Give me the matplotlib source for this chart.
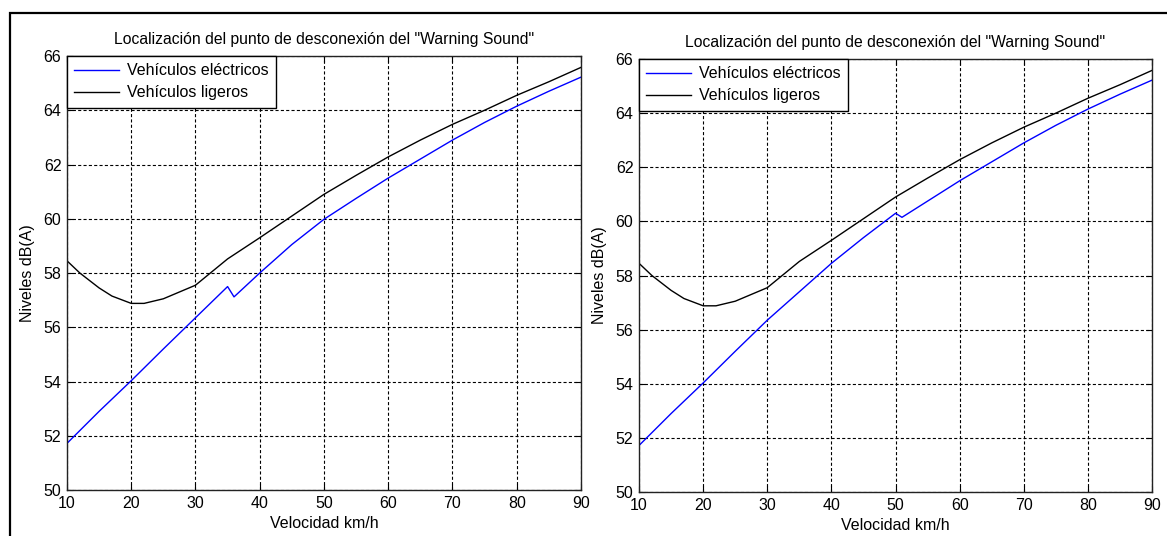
import matplotlib.pyplot as plt
from matplotlib.patches import Rectangle

plt.rcParams['font.family'] = ['Liberation Sans', 'DejaVu Sans']

# Vehículos ligeros (same curve on both panels)
speed_ligeros = [10, 12, 15, 17, 20, 22, 25, 27, 30, 35, 40, 45, 50, 55, 60, 65,
                 70, 75, 80, 85, 90]
nivel_ligeros = [58.45, 58.0, 57.45, 57.15, 56.88, 56.88, 57.05, 57.25, 57.55,
                 58.52, 59.3, 60.1, 60.9, 61.6, 62.28, 62.9, 63.48, 64.0, 64.55,
                 65.05, 65.58]

# Vehículos eléctricos, warning sound switched off at 35 km/h (left)
speed_elec_a = [10, 15, 20, 25, 30, 35, 36, 40, 45, 50, 55, 60, 65, 70, 75, 80, 85, 90]
nivel_elec_a = [51.72, 52.9, 54.03, 55.2, 56.35, 57.5, 57.12, 58.0, 59.05, 59.98,
                60.75, 61.5, 62.2, 62.9, 63.55, 64.15, 64.7, 65.22]

# Vehículos eléctricos, warning sound switched off at 50 km/h (right)
speed_elec_b = [10, 15, 20, 25, 30, 35, 40, 45, 50, 51, 55, 60, 65, 70, 75, 80, 85, 90]
nivel_elec_b = [51.72, 52.9, 54.03, 55.2, 56.35, 57.4, 58.45, 59.4, 60.3, 60.15,
                60.75, 61.5, 62.2, 62.9, 63.55, 64.15, 64.7, 65.22]

x_ticks = [10, 20, 30, 40, 50, 60, 70, 80, 90]
y_ticks = [50, 52, 54, 56, 58, 60, 62, 64, 66]

titulo = 'Localización del punto de desconexión del "Warning Sound"'

fig = plt.figure(figsize=(11.67, 5.36), dpi=100)

# outer frame of the original figure
fig.add_artist(Rectangle((0.0086, -0.1), 1.2, 1.0757, transform=fig.transFigure,
                         fill=False, edgecolor='black', linewidth=1.6, clip_on=False))

ax1 = fig.add_axes([0.0574, 0.0858, 0.4404, 0.8097])
ax2 = fig.add_axes([0.5476, 0.0821, 0.4396, 0.8078])

panels = [(ax1, speed_elec_a, nivel_elec_a), (ax2, speed_elec_b, nivel_elec_b)]

for ax, sx, sy in panels:
    ax.plot(sx, sy, color='blue', linewidth=1.0, label='Vehículos eléctricos')
    ax.plot(speed_ligeros, nivel_ligeros, color='black', linewidth=1.0,
            label='Vehículos ligeros')
    ax.set_xlim(10, 90)
    ax.set_ylim(50, 66)
    ax.set_xticks(x_ticks)
    ax.set_yticks(y_ticks)
    ax.grid(True, color='black', linestyle=(0, (2.8, 2.0)), linewidth=0.8)
    ax.tick_params(direction='in', top=True, right=True, length=4, width=0.8,
                   labelsize=11.5, pad=4)
    for s in ax.spines.values():
        s.set_linewidth(1.0)
        s.set_color('#222222')
    ax.set_title(titulo, fontsize=11.3, pad=9)
    ax.set_xlabel('Velocidad km/h', fontsize=11.5, labelpad=4)
    ax.set_ylabel('Niveles dB(A)', fontsize=11.5, labelpad=6)
    leg = ax.legend(loc='upper left', fontsize=11.5, fancybox=False, framealpha=1,
                    borderaxespad=0, handlelength=2.8, handletextpad=0.5,
                    labelspacing=0.45, borderpad=0.45)
    leg.get_frame().set_edgecolor('black')
    leg.get_frame().set_linewidth(1.0)

fig.savefig('out.png', dpi=100)
